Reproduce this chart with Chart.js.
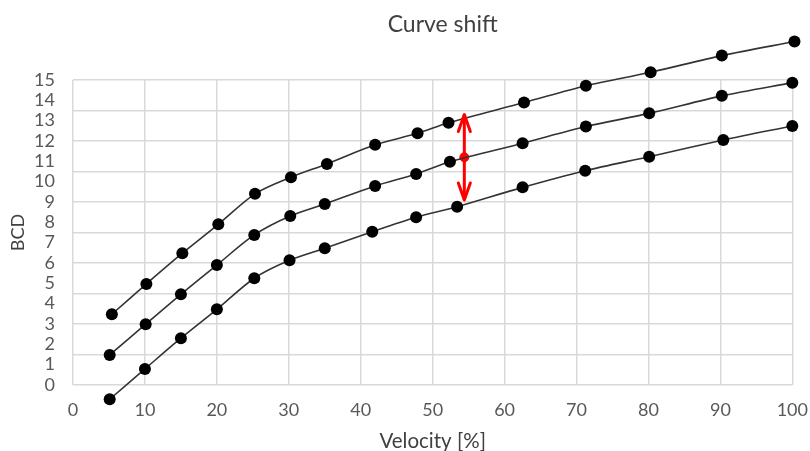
<!DOCTYPE html>
<html>
<head>
<meta charset="utf-8">
<script src="https://cdn.jsdelivr.net/npm/chart.js@4"></script>
<style>
  html, body { margin: 0; padding: 0; background: #fff; }
  #wrap { width: 810px; height: 451px; }
</style>
</head>
<body>
<div id="wrap"><canvas id="c" width="810" height="451"></canvas></div>
<script>
// ---- data ----
const chartTitle = 'Curve shift';
const xTitle = 'Velocity [%]';
const yTitle = 'BCD';

const topX = [5.4, 10.2, 15.2, 20.2, 25.3, 30.3, 35.3, 42.0, 47.9, 52.2, 62.7, 71.3, 80.3, 90.2, 100.3];
const topY = [3.48, 4.97, 6.48, 7.90, 9.40, 10.22, 10.87, 11.81, 12.38, 12.90, 13.89, 14.72, 15.38, 16.20, 16.89];

const midX = [5.1, 10.1, 15.0, 20.0, 25.2, 30.2, 35.0, 42.0, 47.7, 52.4, 62.5, 71.3, 80.1, 90.2, 100];
const midY = [1.48, 2.99, 4.46, 5.90, 7.38, 8.31, 8.90, 9.79, 10.38, 10.98, 11.89, 12.71, 13.36, 14.22, 14.87];

const botX = [5.1, 10.0, 15.0, 20.0, 25.2, 30.1, 35.0, 41.6, 47.7, 53.4, 62.5, 71.2, 80.1, 90.4, 100];
const botY = [-0.70, 0.79, 2.30, 3.72, 5.25, 6.13, 6.72, 7.54, 8.25, 8.77, 9.72, 10.54, 11.23, 12.05, 12.74];

// red shift arrow
const arrowX = 54.4;
const arrowTop = 13.3;
const arrowBottom = 9.1;
const arrowMid = 11.2;

// axes
const xMin = 0, xMax = 100, xStep = 10;
const yMin = 0, yMax = 15, yLabelStep = 1, yGridStep = 1.5;

// ---- build ----
const toPts = (xs, ys) => xs.map((x, i) => ({ x: x, y: ys[i] }));

Chart.defaults.font.family = 'Lato, "Open Sans", sans-serif';

const POINT_R = 6;
const curveStyle = {
  type: 'line',
  borderColor: '#333333',
  borderWidth: 1.6,
  pointRadius: POINT_R,
  pointBackgroundColor: '#000000',
  pointBorderColor: '#000000',
  pointBorderWidth: 0,
  tension: 0.3,
  clip: false,
  fill: false
};

// Chart.js skips point markers outside the chart area; draw those at the
// positions the library computed for them.
const outsidePoints = {
  id: 'outsidePoints',
  afterDatasetsDraw(chart) {
    const ctx = chart.ctx;
    const a = chart.chartArea;
    ctx.save();
    ctx.fillStyle = '#000000';
    [0, 1, 2].forEach(i => {
      const meta = chart.getDatasetMeta(i);
      meta.data.forEach(el => {
        const inside = el.x >= a.left - POINT_R && el.x <= a.right + POINT_R &&
                       el.y >= a.top - POINT_R && el.y <= a.bottom + POINT_R;
        if (!inside) {
          ctx.beginPath();
          ctx.arc(el.x, el.y, POINT_R, 0, Math.PI * 2);
          ctx.fill();
        }
      });
    });
    ctx.restore();
  }
};

// the reference title sits slightly right of the plot centre
const titleShift = {
  id: 'titleShift',
  afterLayout(chart) {
    if (chart.titleBlock) {
      chart.titleBlock.left += 10;
      chart.titleBlock.right += 10;
    }
  }
};

const arrowHeads = {
  id: 'arrowHeads',
  afterDatasetsDraw(chart) {
    const ctx = chart.ctx;
    const xs = chart.scales.x, ys = chart.scales.y;
    const px = xs.getPixelForValue(arrowX);
    const t = ys.getPixelForValue(arrowTop);
    const b = ys.getPixelForValue(arrowBottom);
    ctx.save();
    ctx.strokeStyle = '#ff0000';
    ctx.lineWidth = 3;
    ctx.lineCap = 'round';
    ctx.lineJoin = 'round';
    ctx.beginPath();
    ctx.moveTo(px - 6, t + 17); ctx.lineTo(px, t); ctx.lineTo(px + 6, t + 17);
    ctx.moveTo(px - 6, b - 17); ctx.lineTo(px, b); ctx.lineTo(px + 6, b - 17);
    ctx.stroke();
    ctx.restore();
  }
};

new Chart(document.getElementById('c'), {
  data: {
    datasets: [
      Object.assign({ label: 'upper', data: toPts(topX, topY) }, curveStyle),
      Object.assign({ label: 'middle', data: toPts(midX, midY) }, curveStyle),
      Object.assign({ label: 'lower', data: toPts(botX, botY) }, curveStyle),
      {
        type: 'line', label: 'shift',
        data: [{ x: arrowX, y: arrowTop }, { x: arrowX, y: arrowBottom }],
        borderColor: '#ff0000', borderWidth: 3, pointRadius: 0, clip: false
      },
      {
        type: 'scatter', label: 'shiftMid',
        data: [{ x: arrowX, y: arrowMid }],
        backgroundColor: '#ff0000', borderColor: '#ff0000', pointRadius: 4.5, clip: false
      }
    ]
  },
  options: {
    responsive: false,
    animation: false,
    events: [],
    layout: { padding: { left: 0, right: 0, top: 0, bottom: 0 } },
    plugins: {
      legend: { display: false },
      tooltip: { enabled: false },
      title: {
        display: true,
        fullSize: false,
        text: chartTitle,
        color: '#404040',
        font: { size: 23, weight: 'normal' },
        padding: { top: 11, bottom: 41.4 }
      }
    },
    scales: {
      x: {
        type: 'linear',
        min: xMin, max: xMax,
        ticks: { stepSize: xStep, color: '#595959', font: { size: 18 }, padding: 2, maxRotation: 0 },
        grid: { color: '#d9d9d9', lineWidth: 1.5, drawTicks: true, tickLength: 12, tickColor: 'rgba(0,0,0,0)' },
        border: { display: false },
        title: { display: true, text: xTitle, color: '#404040', font: { size: 20.5 }, padding: { top: 0, bottom: -3 } },
        afterFit(s) { s.height = 66; }
      },
      yl: {
        type: 'linear',
        position: 'left',
        min: yMin, max: yMax,
        ticks: { stepSize: yLabelStep, autoSkip: false, color: '#595959', font: { size: 18 }, padding: 18 },
        grid: { display: false, drawTicks: false },
        border: { display: false },
        title: { display: true, text: yTitle, color: '#404040', font: { size: 18 }, padding: { top: 7, bottom: 0 } },
        afterFit(s) { s.width = 73; }
      },
      y: {
        type: 'linear',
        position: 'left',
        min: yMin, max: yMax,
        ticks: { stepSize: yGridStep, display: false },
        grid: { color: '#d9d9d9', lineWidth: 1.5, drawTicks: false },
        border: { display: false },
        afterFit(s) { s.width = 0; }
      }
    }
  },
  plugins: [outsidePoints, titleShift, arrowHeads]
});
</script>
</body>
</html>
